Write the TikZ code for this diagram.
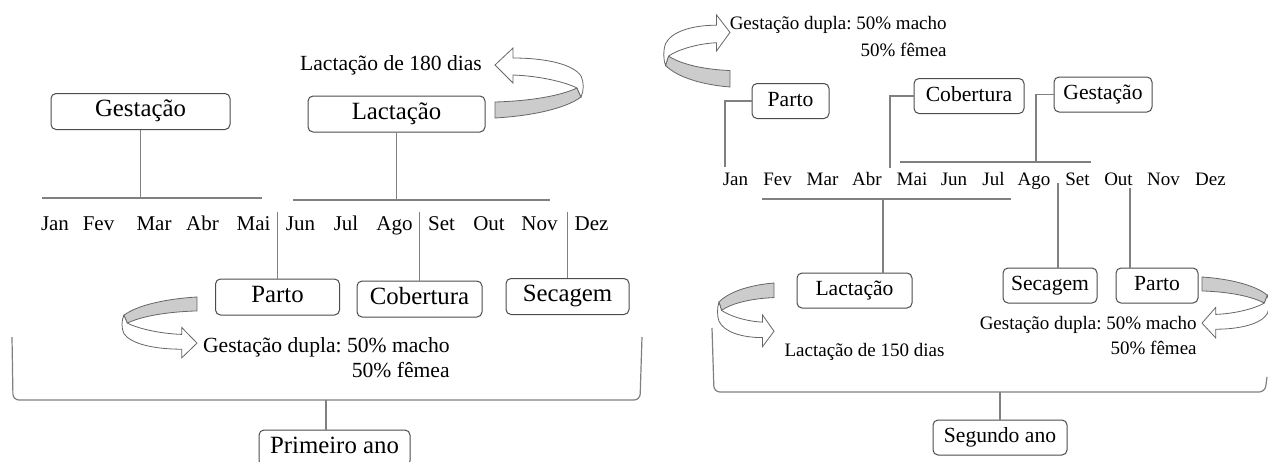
\documentclass[tikz,border=0pt]{standalone}
\usepackage{fontspec}
\setmainfont{Liberation Serif}
\frenchspacing

% seta curva em fita (origem, xscale, yscale)
\newcommand{\setacurva}[3]{%
  \begin{scope}[shift={#1}, xscale=#2, yscale=#3]
    \filldraw[fita, fill=gray!40] (0,0) -- (0,-16)
      .. controls (35,-17) and (65,-22) .. (82,-30) -- (86,-21)
      .. controls (70,-9) and (35,-2) .. (0,0) -- cycle;
    \filldraw[fita, fill=white] (82,-30)
      .. controls (70,-36) and (45,-42) .. (18,-43)
      -- (18,-35) -- (0,-53) -- (18,-70) -- (18,-60)
      .. controls (50,-60) and (78,-54) .. (86,-42)
      .. controls (89,-36) and (89,-27) .. (86,-21) -- cycle;
  \end{scope}}

\begin{document}
\begin{tikzpicture}
        [x=0.5pt, y=-0.5pt,
         caixa/.style={
             draw=black!70,
             fill=white,
             rounded corners=2.5pt,
             inner sep=0pt,
             line width=0.5pt,
             text height=0.72em,
             text depth=0.2em
         },
         caixaA/.style={caixa, minimum height=18pt,
             font=\fontsize{12.4}{14}\selectfont},
         caixaB/.style={caixa, minimum height=17.5pt,
             font=\fontsize{10.8}{13}\selectfont},
         mesA/.style={anchor=base, inner sep=0pt,
             font=\fontsize{10.5}{12}\selectfont},
         mesB/.style={anchor=base, inner sep=0pt,
             font=\fontsize{9.5}{11}\selectfont},
         notaA/.style={inner sep=0pt,
             font=\fontsize{10.8}{12.5}\selectfont},
         notaB/.style={inner sep=0pt,
             font=\fontsize{9.5}{12.5}\selectfont},
         linha/.style={draw=gray, line width=0.6pt},
         fita/.style={draw=gray!80!black, line width=0.4pt}
         ]
        \clip (0,0) rectangle (1268,461);

        % primeiro ano
        \node[caixaA, minimum width=89.5pt] (gest1) at (140.5,111.5) {Gestação};
        \node[caixaA, minimum width=88.5pt] (lact1) at (396.5,114) {Lactação};
        \node[notaA] (lab180) at (391,65) {Lactação de 180 dias};
        \setacurva{(495,118)}{1}{1}

        \foreach \m/\x in {Jan/55,Fev/98.5,Mar/154,Abr/202.5,Mai/253.5,Jun/300.5,
            Jul/346,Ago/394.5,Set/441.5,Out/489,Nov/539.5,Dez/591.5}
            \node[mesA] (\m1) at (\x,230) {\m};

        \coordinate (h1a) at (42,198);
        \coordinate (h1b) at (262,198);
        \coordinate (h2a) at (293,200);
        \coordinate (h2b) at (550,200);
        \coordinate (topo1) at (0,212);
        \draw[linha] (h1a) -- (h1b);
        \draw[linha] (h2a) -- (h2b);
        \draw[linha] (gest1.south) -- (gest1.south |- h1a);
        \draw[linha] (lact1.south) -- (lact1.south |- h2a);

        \node[caixaA, minimum width=62pt] (parto1) at (277.5,297) {Parto};
        \node[caixaA, minimum width=62.5pt] (cob1) at (419.5,299) {Cobertura};
        \node[caixaA, minimum width=61.5pt] (sec1) at (567.5,296.5) {Secagem};
        \draw[linha] (parto1.north) -- (parto1.north |- topo1);
        \draw[linha] (cob1.north) -- (cob1.north |- topo1);
        \draw[linha] (sec1.north) -- (sec1.north |- topo1);

        \node[notaA, align=right, anchor=east] (gd1) at (450,357.5)
            {Gestação dupla: 50\% macho\\50\% fêmea};
        \setacurva{(197,297)}{-0.85}{-0.87}

        \coordinate (b1m) at (326,400);
        \draw[linha, rounded corners=3pt] (12,337) -- (13,400) -- (640,400) -- (642,337);
        \node[caixaA, minimum width=75.5pt] (ano1) at (334.5,448) {Primeiro ano};
        \draw[linha] (b1m) -- (b1m |- ano1.north);

        % segundo ano
        \node[notaB, align=right, anchor=east, font=\fontsize{9.5}{13.5}\selectfont]
            (gd2) at (947,36.5) {Gestação dupla: 50\% macho\\50\% fêmea};
        \setacurva{(730,87)}{-0.75}{1.03}

        \node[caixaB, minimum width=38.5pt] (parto2) at (790.5,101) {Parto};
        \node[caixaB, minimum width=55pt] (cob2) at (969,96) {Cobertura};
        \node[caixaB, minimum width=49pt] (gest2) at (1103,94.5) {Gestação};

        \foreach \m/\x in {Jan/735.5,Fev/777.5,Mar/822.5,Abr/867,Mai/912,Jun/954,
            Jul/993.5,Ago/1034,Set/1077.5,Out/1118.5,Nov/1163.5,Dez/1210.5}
            \node[mesB] (\m2) at (\x,185) {\m};

        \coordinate (h3a) at (900,162);
        \coordinate (h3b) at (1091,162);
        \coordinate (h4a) at (762,199);
        \coordinate (h4b) at (1011,199);
        \draw[linha] (h3a) -- (h3b);
        \draw[linha] (h4a) -- (h4b);
        \coordinate (p2pe) at (725,167);
        \coordinate (c2pe) at (890,168);
        \coordinate (g2pe) at (1036,162);
        \draw[linha] (parto2.west) -| (p2pe);
        \draw[linha] (cob2.west) -| (c2pe);
        \draw[linha] (gest2.west) -| (g2pe);

        \node[caixaB, minimum width=57.5pt] (lact2) at (854.5,290.5) {Lactação};
        \node[caixaB, minimum width=47pt] (sec2) at (1050,285.5) {Secagem};
        \node[caixaB, minimum width=41pt] (parto3) at (1157,285.5) {Parto};
        \coordinate (l2pe) at (883,199);
        \coordinate (s2pe) at (1058,183);
        \coordinate (p3pe) at (1130,188);
        \draw[linha] (l2pe) -- (l2pe |- lact2.north);
        \draw[linha] (s2pe) -- (s2pe |- sec2.north);
        \draw[linha] (p3pe) -- (p3pe |- parto3.north);

        \setacurva{(774,283)}{-0.64}{-0.91}
        \node[notaB] (lab150) at (864.5,352) {Lactação de 150 dias};
        \node[notaB, align=right, anchor=east] (gd3) at (1197,335.5)
            {Gestação dupla: 50\% macho\\50\% fêmea};
        \setacurva{(1202,277)}{0.76}{-0.87}

        \coordinate (b2m) at (1000,392);
        \draw[linha, rounded corners=3pt] (712,328) -- (714,392) -- (1265,392) -- (1267,377);
        \node[caixaB, minimum width=67pt] (ano2) at (1000,437.5) {Segundo ano};
        \draw[linha] (b2m) -- (ano2.north);
    \end{tikzpicture}
\end{document}
